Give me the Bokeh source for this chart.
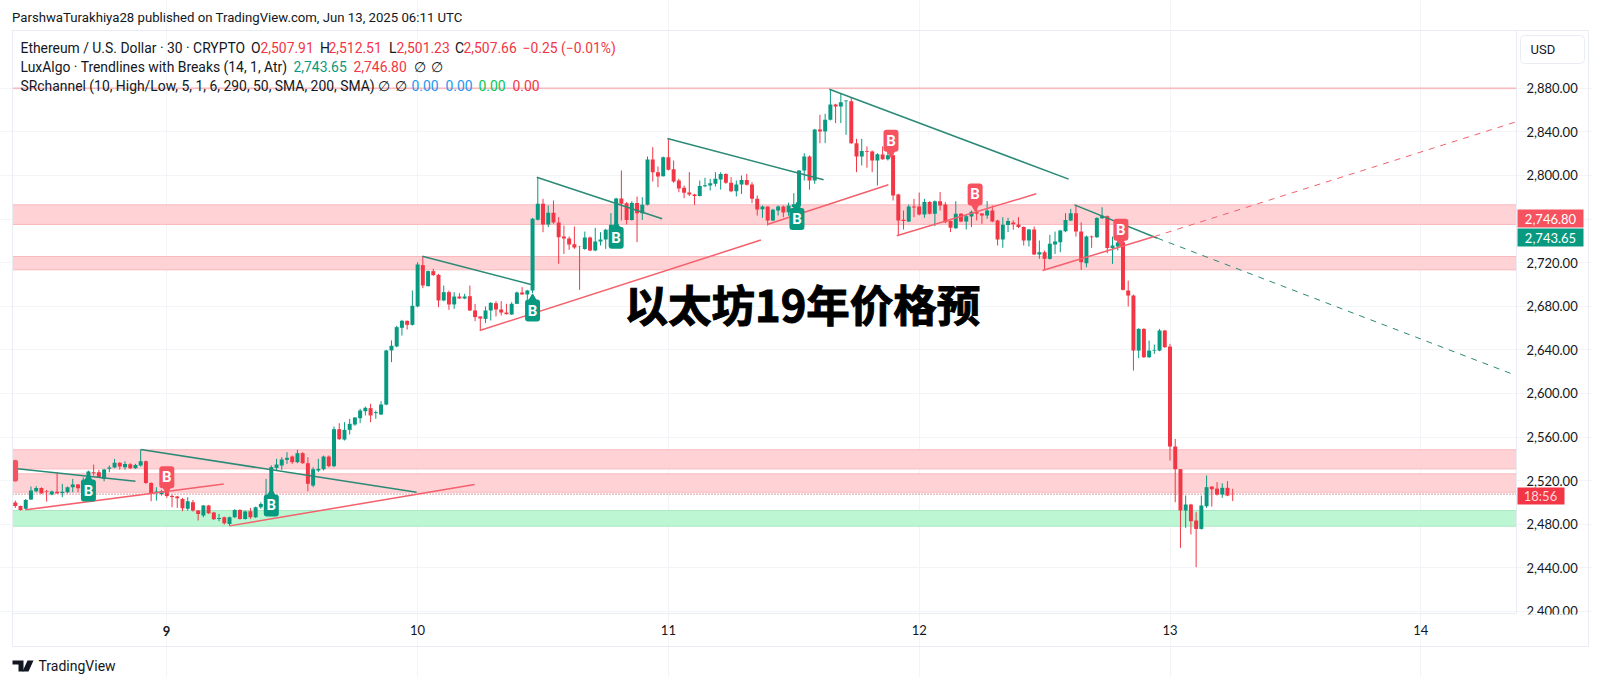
from bokeh.core.properties import value
from bokeh.embed import file_html
from bokeh.models import BoxAnnotation, FixedTicker, Label, LinearAxis, NumeralTickFormatter, PolyAnnotation
from bokeh.plotting import figure
from bokeh.resources import INLINE

# bars are 30 min, bar 0 is 9 Jun 00:00
first_bar = -29
opens = [
    2499.9, 2496.8, 2494.1, 2502.6, 2510.3, 2513.3, 2510.3, 2507.2, 2509.7, 2508.7,
    2509.3, 2513.9, 2516.4, 2518, 2521.6, 2527.7, 2527.7, 2521.6, 2530.8, 2532,
    2536.3, 2532.3, 2535, 2531.4, 2533.8, 2537.8, 2517.9, 2509, 2507.8, 2510.3,
    2506, 2505.4, 2503.2, 2494.1, 2500.2, 2492.5, 2488, 2497.1, 2490.7, 2484.9,
    2486.4, 2480.3, 2486.4, 2493.1, 2484.9, 2491.9, 2486.4, 2495.6, 2498, 2498,
    2531.7, 2533.9, 2539.1, 2542.1, 2536.9, 2545.2, 2536, 2515.5, 2529.3, 2530.5,
    2542.1, 2533.3, 2567.2, 2557.7, 2566.6, 2571.5, 2577.3, 2583.7, 2586.5, 2581.9,
    2580.7, 2589.8, 2639.4, 2643.1, 2660.2, 2666.6, 2662.9, 2679.8, 2717.7, 2698.4,
    2712.2, 2708.8, 2685.3, 2692.9, 2681.6, 2688.9, 2687.1, 2689.2, 2676.1, 2670.6,
    2668.4, 2676.1, 2682.8, 2677, 2674.2, 2672.4, 2682.2, 2692.6, 2690.8, 2694.4,
    2759.3, 2773.9, 2755, 2765.7, 2756.8, 2743.9, 2742.1, 2736.9, 2735.1, 2732.6,
    2743, 2731.1, 2739.4, 2741.2, 2745, 2752.5, 2778.8, 2774.5, 2759.2, 2774.8,
    2765.4, 2773, 2814.6, 2803, 2799.3, 2816.7, 2805.7, 2795.3, 2788.6, 2784.3,
    2782.5, 2781, 2790.1, 2790.7, 2792.3, 2796.3, 2801.4, 2793.2, 2785.5, 2791.7,
    2795.9, 2791.7, 2778.5, 2769, 2771.5, 2758.6, 2767.8, 2771.5, 2766.3, 2771,
    2771.5, 2804.5, 2817.4, 2795.4, 2842.1, 2840.3, 2851, 2865.1, 2863.3, 2868,
    2868.1, 2829.6, 2817.4, 2822.3, 2822, 2813.7, 2819.2, 2814.9, 2818.6, 2782.5,
    2759.3, 2757.8, 2771.5, 2771.5, 2764.2, 2775.5, 2764.8, 2776.4, 2773.3, 2758.1,
    2751.6, 2764.8, 2757.8, 2762.3, 2766.3, 2765.1, 2763.2, 2767.8, 2758.7, 2741.2,
    2754.4, 2756.8, 2755, 2752.6, 2740.3, 2750.4, 2727.5, 2729.6, 2723.4, 2736.6,
    2738.7, 2748.8, 2758.6, 2765.3, 2748.5, 2719.4, 2743.9, 2743.3, 2760.7, 2762.6,
    2733.5, 2734.7, 2738.7, 2694.4, 2689.8, 2639.3, 2659.2, 2633.2, 2639.3, 2639.3,
    2657.7, 2643, 2551.3, 2530.5, 2492.6, 2498.1, 2483.4, 2475.7, 2496.5, 2514.6,
    2512.7, 2507.2, 2513.4, 2507.91,
]
closes = [
    2496.8, 2493.1, 2502.3, 2510.9, 2513.3, 2508.4, 2509.7, 2510, 2508.4, 2509.7,
    2513.9, 2516.4, 2513, 2520, 2528.3, 2526.8, 2523.1, 2530.1, 2532, 2536.3,
    2532.9, 2535.3, 2531.4, 2534.4, 2537.8, 2517.9, 2507.8, 2510, 2510.3, 2506,
    2505.1, 2503.8, 2494.7, 2501.1, 2492.5, 2489.5, 2497.1, 2490.1, 2484.6, 2485.8,
    2480.9, 2486.4, 2493.1, 2484.9, 2491.6, 2486.4, 2495.6, 2498.6, 2499.5, 2532.4,
    2534.8, 2539.4, 2540.9, 2536.9, 2545.2, 2536, 2517.1, 2530.5, 2530.8, 2542.1,
    2533.3, 2567.2, 2558, 2566.6, 2572.1, 2577.9, 2584.3, 2586.8, 2579.8, 2582.8,
    2589.8, 2639.4, 2643.7, 2660.8, 2666.6, 2662.9, 2680.4, 2718.3, 2699, 2712.2,
    2708.5, 2685.3, 2692.9, 2681.6, 2688.9, 2687.1, 2688.9, 2676.1, 2670, 2668.7,
    2676.1, 2683.1, 2677, 2674.2, 2672.7, 2682.2, 2692.6, 2690.8, 2694.4, 2760.2,
    2773.9, 2755, 2765.7, 2756.8, 2743.3, 2742.1, 2736.6, 2733.9, 2734.8, 2743,
    2731.1, 2739.4, 2741.2, 2750.1, 2754.7, 2778.8, 2773.9, 2759.2, 2774.8, 2765.4,
    2773, 2814.6, 2803, 2799, 2816.7, 2805.1, 2794.4, 2788, 2784, 2782.5,
    2781, 2790.4, 2791, 2792.9, 2796.9, 2801.4, 2793.2, 2785.5, 2791.7, 2795.9,
    2791.4, 2778.5, 2768.7, 2771.5, 2758.6, 2768.4, 2771.5, 2766, 2772.4, 2773.5,
    2804.5, 2817.4, 2795.4, 2842.1, 2840.3, 2851, 2865.1, 2863.3, 2867.2, 2868.7,
    2829.6, 2817.4, 2822.3, 2821.7, 2813.7, 2819.5, 2814.9, 2818.6, 2781.6, 2758.7,
    2758.1, 2771.5, 2770.6, 2764.2, 2775.5, 2764.8, 2776.4, 2772.4, 2757.1, 2752,
    2764.8, 2757.8, 2762.6, 2766.6, 2764.8, 2763.2, 2767.8, 2757.8, 2741.2, 2754.7,
    2758.1, 2755.3, 2752.6, 2740.3, 2750.4, 2727.5, 2729.6, 2723.5, 2737.2, 2739.3,
    2749.4, 2759.2, 2765.3, 2748.5, 2720.4, 2743.9, 2743.3, 2761, 2762.9, 2733.5,
    2735.6, 2738.4, 2695, 2689.8, 2639.3, 2659.2, 2633.2, 2639.3, 2639.9, 2657.7,
    2642.4, 2551.3, 2530.5, 2492.6, 2498.1, 2482.8, 2475.7, 2497.2, 2514, 2512.1,
    2507.2, 2513.4, 2506.3, 2507.66,
]
highs = [
    2501.7, 2497, 2503.2, 2514.6, 2514.9, 2513.9, 2511.5, 2510.9, 2527.7, 2517,
    2514.6, 2521.6, 2517, 2523, 2529.2, 2534.7, 2529.8, 2530.8, 2533.8, 2539.9,
    2536.9, 2537.8, 2536, 2535.4, 2548.5, 2538.4, 2518.5, 2513.9, 2511.5, 2510.9,
    2507.2, 2506, 2504.2, 2504.8, 2502.3, 2493.1, 2497.7, 2497.7, 2491.3, 2489.5,
    2487, 2487, 2493.8, 2493.8, 2492.5, 2495, 2496.2, 2500.2, 2521.6, 2534,
    2540, 2541.5, 2546.1, 2543, 2548.3, 2546.1, 2541.5, 2532.3, 2540, 2543,
    2543, 2569.7, 2572.7, 2573.6, 2576.7, 2578.2, 2585.9, 2588, 2590.5, 2584.3,
    2592.9, 2640, 2648.6, 2662, 2667.5, 2666.9, 2694.4, 2720.4, 2725.9, 2712.8,
    2714.3, 2709.7, 2699, 2694.4, 2692.9, 2692, 2691.4, 2699, 2682.2, 2670.6,
    2679.8, 2683.7, 2684.6, 2684.6, 2682.2, 2683.7, 2693.5, 2697.5, 2695, 2761,
    2798.4, 2778.5, 2772.4, 2777, 2761.7, 2754, 2743.9, 2753.1, 2735.4, 2748.5,
    2743.9, 2751.9, 2747.9, 2751, 2765.4, 2779.4, 2804.5, 2775.5, 2776.4, 2780.6,
    2780, 2817.3, 2825.9, 2808.2, 2817.3, 2833.9, 2813.7, 2796.9, 2790.7, 2803,
    2783.1, 2795.3, 2797.8, 2796.9, 2803, 2803, 2802, 2798.4, 2795.3, 2799.9,
    2801.4, 2793.8, 2781.6, 2772.4, 2771.5, 2769.3, 2772.4, 2772.4, 2775, 2783.7,
    2804.9, 2820.4, 2818.3, 2842.7, 2855.6, 2856.5, 2879.1, 2865.7, 2874.9, 2868.7,
    2871.8, 2833.6, 2833.6, 2826.6, 2822.9, 2820.4, 2826.6, 2827.5, 2819.2, 2783.1,
    2767.8, 2773.3, 2778.5, 2784.3, 2778.5, 2776.4, 2777, 2784.7, 2775.5, 2758.7,
    2776.4, 2765.4, 2764.2, 2767.8, 2770.9, 2765.4, 2776.4, 2772.4, 2759.3, 2761.7,
    2761.1, 2758.7, 2761.7, 2753.2, 2751, 2753.2, 2740.3, 2731.1, 2745.4, 2748.5,
    2750, 2765.3, 2769.3, 2773, 2757, 2744.8, 2744.8, 2761.6, 2770.8, 2763.2,
    2743.9, 2740.2, 2740.2, 2703.5, 2690.7, 2659.8, 2659.8, 2648.5, 2644.8, 2659.2,
    2658.3, 2645.5, 2558.3, 2530.5, 2506.3, 2498.7, 2491, 2506.3, 2524.7, 2514.6,
    2518.6, 2517.6, 2519.5, 2512.51,
]
lows = [
    2495, 2492.5, 2493.1, 2502.3, 2509.3, 2507.8, 2500.8, 2506.6, 2507.8, 2504.8,
    2508.4, 2509.3, 2509.3, 2516, 2520.1, 2524.6, 2522.5, 2519.4, 2527.7, 2531.4,
    2530.1, 2530.1, 2530.8, 2530.8, 2532.9, 2517, 2501.1, 2501.7, 2506.3, 2504.2,
    2495.6, 2495, 2491.9, 2492.5, 2491.6, 2483.4, 2486.4, 2489.5, 2484, 2482.7,
    2479.7, 2478.5, 2485.8, 2484.3, 2484.3, 2484.9, 2485.8, 2494.1, 2497, 2496,
    2529.3, 2529.9, 2535.4, 2535.4, 2536, 2535.4, 2510.3, 2514, 2527.8, 2529.3,
    2532.3, 2532.3, 2557.4, 2556.8, 2562.3, 2570.3, 2572.7, 2579.8, 2573.6, 2576.7,
    2580.1, 2589.2, 2628.7, 2642.4, 2653.1, 2658.6, 2662.3, 2679.1, 2696.6, 2698.1,
    2707.9, 2679.1, 2684.6, 2676.7, 2677.6, 2686.8, 2686.5, 2675.5, 2666.3, 2657.7,
    2664.5, 2666.9, 2670.6, 2671.5, 2672.4, 2672.1, 2681.9, 2690.5, 2685.9, 2692,
    2758.7, 2747.9, 2752.5, 2755.6, 2718.9, 2728, 2731.7, 2732.6, 2695, 2731.7,
    2730.5, 2730.5, 2735.7, 2732.6, 2740, 2751.9, 2758.6, 2755, 2758.6, 2738.8,
    2759.2, 2772.4, 2794.4, 2789.2, 2799, 2804.5, 2793.2, 2784.6, 2779.1, 2781,
    2773, 2780.7, 2789.2, 2786.2, 2789.8, 2787, 2792.3, 2784.6, 2780.7, 2783,
    2790.7, 2774.5, 2763.2, 2761.1, 2754, 2758, 2763.2, 2761.7, 2763, 2770,
    2770, 2795.4, 2786.8, 2792.3, 2829.6, 2829.6, 2850.4, 2848, 2848, 2837.3,
    2829, 2803, 2809.1, 2807, 2803, 2790.8, 2814.3, 2813.7, 2777, 2744.9,
    2750.4, 2757.1, 2761.7, 2763.3, 2761.1, 2764.2, 2753.5, 2767.8, 2756.2, 2748,
    2751, 2757.1, 2750.4, 2752.6, 2758.7, 2755.6, 2760.2, 2757.1, 2735.7, 2733.6,
    2748, 2750.1, 2751.6, 2735.7, 2734.8, 2726.9, 2723.5, 2713.4, 2722.8, 2728,
    2729.5, 2747.9, 2758, 2743.9, 2713.3, 2715.8, 2733.5, 2742.7, 2760.1, 2728.6,
    2718.8, 2731.1, 2694.4, 2679.7, 2621, 2632.3, 2632.6, 2632.6, 2636.3, 2638.7,
    2641.8, 2538.4, 2500.2, 2458.3, 2476.7, 2470.6, 2440.6, 2475.1, 2495, 2496.2,
    2506.3, 2504.2, 2505.7, 2501.23,
]

day_ticks = [0, 48, 96, 144, 192, 240]
day_labels = ["9", "10", "11", "12", "13", "14"]
price_ticks = list(range(2400, 2881, 40))

# SR channels
zone_tops = [2773, 2725.6, 2548.3, 2526.2, 2880.2]
zone_bottoms = [2755, 2713.4, 2530.8, 2509.4, 2879.6]
green_zone_top = [2492.6]
green_zone_bottom = [2478.2]

# trendlines, (bar, price) at both ends
down_x0 = [-29.5, -5, 48.9, 70.8, 95.8, 126.8, 173.7]
down_y0 = [2531.4, 2548.5, 2725.9, 2798.3, 2833.9, 2879.1, 2773]
down_x1 = [-6, 47.8, 69.7, 94.8, 125.7, 172.6, 189.6]
down_y1 = [2519.4, 2509.4, 2699.9, 2760.2, 2796, 2796.6, 2742.4]
up_x0 = [-27, 12, 59.9, 114.9, 139.7, 167.6]
up_y0 = [2493.2, 2478.5, 2657.7, 2755, 2744.6, 2712.8]
up_x1 = [10.9, 58.9, 113.7, 138.1, 166.4, 189]
up_y1 = [2517, 2516.4, 2740.7, 2791.4, 2783.1, 2743.9]
down_ext = ([189.6, 258], [2742.4, 2616.9])
up_ext = ([189, 258], [2743.9, 2848.8])

# break labels
buy_bars = [-15, 20, 70, 86, 120.6]
buy_prices = [2510.9, 2497.2, 2676, 2742.8, 2760]
sell_bars = [0, 138.6, 154.7, 182.6]
sell_prices = [2523.1, 2831.7, 2782.5, 2750.2]
cut_sell_bar = [-29.9]
cut_sell_price = [2529]

last_price = 2507.66

GREEN = "#089981"
RED = "#f23645"
TAG_RED = "#f7525f"
TEXT = "#131722"
GRID = "#f2f4f8"
BORDER = "#e9ecf2"
FONT = "Roboto"

# chart area inside the canvas
left, right = -29.53, 258.3
bottom, top = 2398.3, 2933

# the frame fills the canvas, annotations outside it would get clipped
p = figure(
    width=1592, height=677,
    x_range=(-31.83, 272.86), y_range=(2339.4, 2960.46),
    x_axis_location=None, y_axis_location=None,
    toolbar_location=None, output_backend="svg",
    min_border=0,
)
p.outline_line_color = None
p.background_fill_color = "white"

xaxis = LinearAxis(fixed_location=bottom, ticker=FixedTicker(ticks=day_ticks),
                   major_label_overrides={**dict(zip(day_ticks[1:], day_labels[1:])), 0: ""})
yaxis = LinearAxis(fixed_location=right, ticker=FixedTicker(ticks=price_ticks),
                   formatter=NumeralTickFormatter(format="0,0.00"))
for ax in (xaxis, yaxis):
    ax.axis_line_color = None
    ax.major_tick_line_color = None
    ax.minor_tick_line_color = None
    ax.major_tick_in = 0
    ax.major_tick_out = 0
    ax.minor_tick_in = 0
    ax.minor_tick_out = 0
    ax.major_label_text_font = "Lato"
    ax.major_label_text_font_size = "13px"
    ax.major_label_text_color = TEXT
yaxis.major_label_standoff = 10
xaxis.major_label_standoff = 12
p.add_layout(xaxis, "below")
p.add_layout(yaxis, "right")
p.xgrid.ticker = FixedTicker(ticks=day_ticks)
p.ygrid.ticker = FixedTicker(ticks=price_ticks)
p.xgrid.bounds = (bottom, top)
p.ygrid.bounds = (left, right)
p.xgrid.grid_line_color = GRID
p.ygrid.grid_line_color = GRID

p.quad(left=left, right=right, top=zone_tops, bottom=zone_bottoms,
       fill_color="#ffd2d5", line_color="#f9b9bd", line_width=1)
p.quad(left=left, right=right, top=green_zone_top, bottom=green_zone_bottom,
       fill_color="#bdf6d3", line_color="#a9e8c2", line_width=1)

p.line([left, right], [last_price, last_price], color="#b0303c", line_width=1, line_dash="1 2")

bars = [first_bar + n for n in range(len(closes))]
colors = [GREEN if c >= o else RED for o, c in zip(opens, closes)]
p.segment(bars, lows, bars, highs, color=colors, line_width=1)
p.vbar(x=bars, width=0.76, top=[max(v) for v in zip(opens, closes)],
       bottom=[min(v) for v in zip(opens, closes)], fill_color=colors, line_color=None)

p.segment(down_x0, down_y0, down_x1, down_y1, color="#2b8a76", line_width=1.5)
p.segment(up_x0, up_y0, up_x1, up_y1, color="#f4606c", line_width=1.5)
p.line(*down_ext, color="#2b8a76", line_width=1, line_dash="6 6")
p.line(*up_ext, color="#f4606c", line_width=1, line_dash="6 6")

# tags are 15x22 px
half_w, half_h = 7.5 / 5.225, 11 / 1.09
all_sell_bars = sell_bars + cut_sell_bar
all_sell_prices = sell_prices + cut_sell_price
p.quad(left=[x - half_w for x in buy_bars], right=[x + half_w for x in buy_bars],
       top=[y + half_h for y in buy_prices], bottom=[y - half_h for y in buy_prices],
       fill_color=GREEN, line_color=None, border_radius=3)
p.scatter(buy_bars, [y + half_h + 1.5 for y in buy_prices],
          marker="triangle", size=7, color=GREEN)
p.quad(left=[max(x - half_w, left) for x in all_sell_bars], right=[x + half_w for x in all_sell_bars],
       top=[y + half_h for y in all_sell_prices], bottom=[y - half_h for y in all_sell_prices],
       fill_color=TAG_RED, line_color=None, border_radius=3)
p.scatter(sell_bars, [y - half_h - 1.5 for y in sell_prices],
          marker="inverted_triangle", size=7, color=TAG_RED)
p.text(buy_bars + sell_bars, buy_prices + sell_prices, text=["B"] * 9,
       text_color="white", text_align="center", text_baseline="middle",
       text_font=value(FONT), text_font_size="15px", text_font_style="bold")


def label(text, x, y, color=TEXT, size="13.9px", align="left", style="normal", font=FONT, **kw):
    p.add_layout(Label(x=x, y=y, x_units="canvas", y_units="canvas", text=text, level="overlay",
                       text_color=color, text_font=font, text_font_size=size,
                       text_font_style=style, text_align=align, text_baseline="middle", **kw))


def box(l, t, r, b, fill=None, line=None, radius=0):
    p.add_layout(BoxAnnotation(left=l, right=r, top=t, bottom=b, level="overlay",
                               left_units="canvas", right_units="canvas",
                               top_units="canvas", bottom_units="canvas",
                               fill_color=fill, fill_alpha=1 if fill else 0,
                               line_color=line, line_alpha=1 if line else 0,
                               line_width=1, border_radius=radius, editable=False))


box(12, 30, 1588, 646, line=BORDER)
box(12, 30, 1516, 613, line=BORDER)
box(1517, 614, 1587, 630, fill="white")
label("ParshwaTurakhiya28 published on TradingView.com, Jun 13, 2025 06:11 UTC", 11.5, 17, size="13.2px")

label("Ethereum / U.S. Dollar · 30 · CRYPTO", 20, 47)
for x, t in [(250.5, "O"), (319.5, "H"), (388.5, "L"), (454.5, "C")]:
    label(t, x, 47)
for x, t in [(260, "2,507.91"), (328, "2,512.51"), (396, "2,501.23"), (463, "2,507.66"),
             (522, "−0.25 (−0.01%)")]:
    label(t, x, 47, color=RED)
label("LuxAlgo · Trendlines with Breaks (14, 1, Atr)", 20, 66)
label("2,743.65", 293, 66, color=GREEN)
label("2,746.80", 353, 66, color=RED)
label("∅", 413, 66)
label("∅", 430, 66)
label("SRchannel (10, High/Low, 5, 1, 6, 290, 50, SMA, 200, SMA)", 20, 85)
label("∅", 377, 85)
label("∅", 394, 85)
label("0.00", 411, 85, color="#2196f3")
label("0.00", 445, 85, color="#2196f3")
label("0.00", 478, 85, color="#00c853")
label("0.00", 512, 85, color=RED)

box(1520, 35, 1584, 63, line=BORDER, radius=4)
label("USD", 1530, 49, size="13px")

box(1517, 209, 1583, 227, fill="#f7525f")
label("2,746.80", 1550, 218, color="white", size="13px", align="center", font="Lato")
box(1517, 228, 1583, 246, fill=GREEN)
label("2,743.65", 1550, 237, color="white", size="13px", align="center", font="Lato")
box(1517, 487, 1564, 504, fill=RED)
label("18:56", 1540, 495.5, color="#ffd9dc", size="13px", align="center", font="Lato")

label("9", 166, 630, size="13px", style="bold", align="center", font="Lato")

# TradingView mark
p.add_layout(PolyAnnotation(xs=[12, 23, 23, 18, 18, 12], ys=[660, 660, 671, 671, 664, 664],
                            xs_units="canvas", ys_units="canvas", level="overlay",
                            fill_color=TEXT, fill_alpha=1, line_color=None, editable=False))
p.add_layout(PolyAnnotation(xs=[27, 33, 28, 22], ys=[660, 660, 671, 671],
                            xs_units="canvas", ys_units="canvas", level="overlay",
                            fill_color=TEXT, fill_alpha=1, line_color=None, editable=False))
label("TradingView", 38, 665, size="14px")

label("以太坊19年价格预", 624, 303, color="black", size="43.5px", style="bold",
      font="Noto Sans CJK SC", text_outline_color="black")

open("out.html", "w").write(file_html(p, INLINE))
